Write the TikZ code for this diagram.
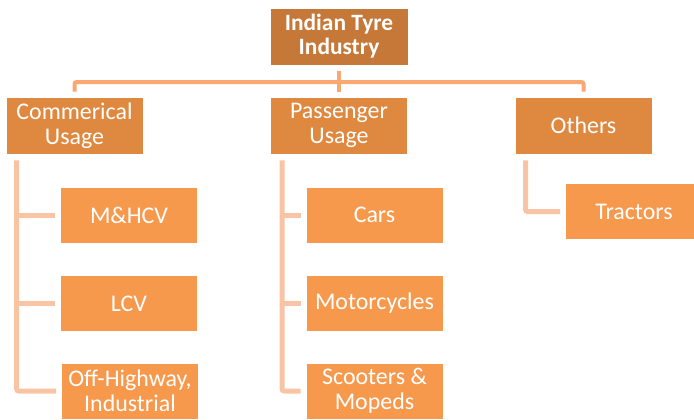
\documentclass[tikz,border=0pt]{standalone}
\usepackage{fontspec}
\setmainfont{Carlito}
\usetikzlibrary{positioning,calc}
\definecolor{topfill}{RGB}{197,120,55}
\definecolor{midfill}{RGB}{223,137,64}
\definecolor{leaffill}{RGB}{247,153,77}
\definecolor{busline}{RGB}{248,168,112}
\definecolor{leafline}{RGB}{249,196,164}

\begin{document}
\begin{tikzpicture}[x=1bp,y=-1bp,
  box/.style={draw=white,line width=0.8bp,text=white,inner sep=0pt,align=center,
    font=\fontsize{24}{25}\selectfont},
  lvlone/.style={box,fill=topfill,minimum width=138bp,minimum height=57bp,
    font=\fontsize{23.5}{24}\selectfont\bfseries},
  lvltwo/.style={box,fill=midfill,minimum width=137bp,minimum height=57bp},
  lvlthree/.style={box,fill=leaffill,minimum width=137bp,minimum height=56bp},
  bus/.style={draw=busline,line width=4bp,rounded corners=2bp},
  link/.style={draw=leafline,line width=5bp,rounded corners=2bp}]
\useasboundingbox (0,0) rectangle (694,419);
% top
\node[lvlone] (ind) at (339,36.5) {Indian Tyre\\Industry};
% second row
\node[lvltwo] (com) at (74.5,125.5) {Commerical\\Usage};
\node[lvltwo] (pas) at (339,125.5) {Passenger\\Usage};
\node[lvltwo] (oth) at (583.5,125.5) {Others};
% leaves
\node[lvlthree] (mhcv) at (129,215) {M\&HCV};
\node[lvlthree] (lcv) at (129,303.5) {LCV};
\node[lvlthree] (offh) at (130,391) {Off-Highway,\\Industrial};
\node[lvlthree] (cars) at (374.5,215) {Cars};
\node[lvlthree] (moto) at (374.5,303.5) {Motorcycles};
\node[lvlthree] (scoot) at (374.5,391) {Scooters \&\\Mopeds};
\node[lvlthree] (trac) at (634,211.5) {Tractors};
% bus
\coordinate (hub) at (339,82);
\draw[bus,shorten <=5bp,shorten >=5bp] (com.north) |- (hub) -| (oth.north);
\draw[bus,shorten <=6bp,shorten >=5bp] (ind.south) -- (pas.north);
% trunks
\coordinate (comtr) at ([xshift=11bp]com.south west);
\coordinate (pastr) at ([xshift=12bp]pas.south west);
\coordinate (othtr) at ([xshift=11bp]oth.south west);
\draw[link,shorten <=6bp,shorten >=5bp] (comtr) |- (offh.west);
\draw[link,shorten >=5bp] (mhcv.west -| comtr) -- (mhcv.west);
\draw[link,shorten >=5bp] (lcv.west -| comtr) -- (lcv.west);
\draw[link,shorten <=6bp,shorten >=5bp] (pastr) |- (scoot.west);
\draw[link,shorten >=5bp] (cars.west -| pastr) -- (cars.west);
\draw[link,shorten >=5bp] (moto.west -| pastr) -- (moto.west);
\draw[link,shorten <=6bp,shorten >=5bp] (othtr) |- (trac.west);
\end{tikzpicture}
\end{document}
